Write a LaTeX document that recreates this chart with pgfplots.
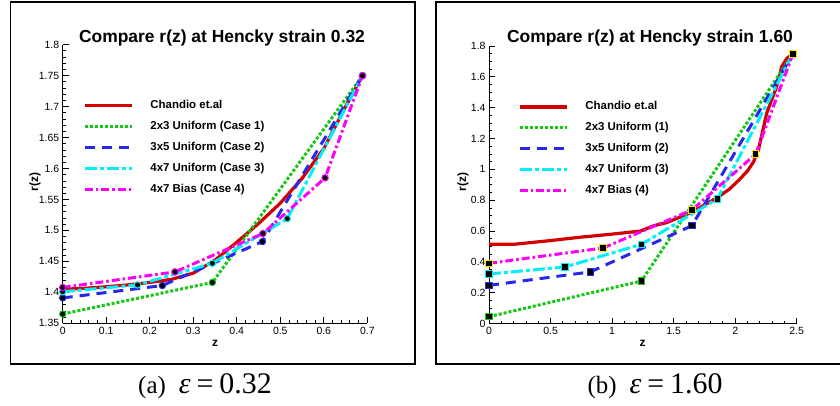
\documentclass[border=0pt]{standalone}
\usepackage{pgfplots}
\pgfplotsset{compat=1.18}
\usepackage{fontspec}
\setmainfont{Liberation Sans}
\newfontfamily\timesfont{Liberation Serif}
\definecolor{cred}{RGB}{210,0,0}
\definecolor{cgreen}{RGB}{20,200,20}
\definecolor{cblue}{RGB}{40,40,235}
\definecolor{ccyan}{RGB}{0,240,250}
\definecolor{cmag}{RGB}{250,0,250}
\definecolor{cyel}{RGB}{240,230,0}
\pgfplotsset{
  mystyle/.style={
    scale only axis, axis x line*=bottom, axis y line*=left,
    tick align=inside, axis line style={line width=1bp,-},
    major tick length=6bp, minor tick length=3bp,
    tick style={line width=0.8bp, black},
    tick label style={font=\fontsize{10.5}{12}\selectfont},
    /pgf/number format/assume math mode=true,
    clip=false,
    legend cell align=left,
    legend style={draw=none, fill=none, inner sep=0pt, row sep=10.5bp,
      /tikz/every odd column/.append style={column sep=17bp},
      nodes={inner sep=0pt, text height=8bp, text depth=2.5bp, font=\fontsize{11.5}{13}\selectfont\bfseries}},
    legend image code/.code={\draw[##1] (0bp,0bp) -- (47bp,0bp);},
  },
  sred/.style={color=cred, line width=3.2bp, solid, no markers},
  sgreen/.style={color=cgreen, line width=3bp, dash pattern=on 3bp off 2bp},
  sblue/.style={color=cblue, line width=3bp, dash pattern=on 10bp off 7bp},
  scyan/.style={color=ccyan, line width=3bp, dash pattern=on 12bp off 3bp on 4bp off 3bp},
  smag/.style={color=cmag, line width=3bp, dash pattern=on 8bp off 3bp on 2.5bp off 3bp},
}
\begin{document}
\begin{tikzpicture}[x=1bp,y=1bp]
\path[use as bounding box] (0,0) rectangle (840,405);
\draw[line width=1.5bp] (10.5,41) rectangle (415,403);
\draw[line width=1.5bp] (842,403) -- (436,403) -- (436,41) -- (842,41);

% ---------- left ----------
\begin{axis}[mystyle, at={(62.7bp,81.7bp)}, anchor=south west,
  width=304.6bp, height=278.6bp,
  xmin=0, xmax=0.7, ymin=1.35, ymax=1.8,
  xtick={0,0.1,...,0.7}, ytick={1.35,1.4,...,1.8},
  minor x tick num=4, minor y tick num=4,
  legend style={at={(rel axis cs:0.0666,0.80)}, anchor=north west},
  mark size=3.2bp]
\addplot[sred] coordinates {(0,1.405) (0.05,1.4065) (0.1,1.409) (0.15,1.412) (0.2,1.416) (0.25,1.421) (0.3,1.431) (0.35,1.452) (0.4,1.481) (0.45,1.511) (0.5,1.544) (0.55,1.584) (0.6,1.632) (0.65,1.70) (0.689,1.75)};
\addlegendentry{Chandio et.al}
\addplot[sgreen, mark=*, mark options={solid, fill=black, draw=cgreen, line width=1bp}] coordinates {(0,1.365) (0.344,1.416) (0.689,1.75)};
\addlegendentry{2x3 Uniform (Case 1)}
\addplot[sblue, mark=*, mark options={solid, fill=black, draw=cblue, line width=1bp}] coordinates {(0,1.391) (0.229,1.411) (0.459,1.482) (0.689,1.75)};
\addlegendentry{3x5 Uniform (Case 2)}
\addplot[scyan, mark=*, mark options={solid, fill=black, draw=ccyan, line width=1bp}] coordinates {(0,1.401) (0.172,1.412) (0.344,1.447) (0.516,1.519) (0.689,1.75)};
\addlegendentry{4x7 Uniform (Case 3)}
\addplot[smag, mark=*, mark options={solid, fill=black, draw=cmag, line width=1bp}] coordinates {(0,1.408) (0.258,1.433) (0.46,1.495) (0.603,1.585) (0.689,1.75)};
\addlegendentry{4x7 Bias (Case 4)}
\end{axis}

% ---------- right ----------
\begin{axis}[mystyle, at={(489bp,81.4bp)}, anchor=south west,
  width=307.7bp, height=277.6bp,
  xmin=0, xmax=2.5, ymin=0, ymax=1.8,
  xtick={0,0.5,...,2.5}, ytick={0,0.2,...,1.8},
  minor x tick num=4, minor y tick num=3,
  legend style={at={(rel axis cs:0.0942,0.80)}, anchor=north west},
  mark size=3.3bp]
\addplot[sred] coordinates {(0,0.514) (0.2,0.514) (0.47,0.536) (0.74,0.56) (1.01,0.581) (1.23,0.60) (1.34,0.635) (1.44,0.654) (1.55,0.69) (1.66,0.726) (1.86,0.82) (1.95,0.87) (2.03,0.93) (2.10,0.99) (2.15,1.05) (2.19,1.13) (2.256,1.364) (2.337,1.536) (2.378,1.666) (2.42,1.72) (2.47,1.75)};
\addlegendentry{Chandio et.al}
\addplot[sgreen, mark=square*, mark options={solid, fill=black, draw=cgreen, line width=1bp}] coordinates {(0,0.045) (1.238,0.276) (2.47,1.75)};
\addlegendentry{2x3 Uniform (1)}
\addplot[sblue, mark=square*, mark options={solid, fill=black, draw=cblue, line width=1bp}] coordinates {(0,0.248) (0.823,0.335) (1.649,0.635) (2.47,1.75)};
\addlegendentry{3x5 Uniform (2)}
\addplot[scyan, mark=square*, mark options={solid, fill=black, draw=ccyan, line width=1bp}] coordinates {(0,0.322) (0.617,0.367) (1.238,0.514) (1.855,0.808) (2.47,1.75)};
\addlegendentry{4x7 Uniform (3)}
\addplot[smag, mark=square*, mark options={solid, fill=black, draw=cyel, line width=1bp}] coordinates {(0,0.391) (0.927,0.490) (1.649,0.737) (2.166,1.098) (2.47,1.75)};
\addlegendentry{4x7 Bias (4)}
\end{axis}

% titles and labels
\node[anchor=base, font=\fontsize{17.5}{20}\selectfont\bfseries] at (222,362.5) {Compare r(z) at Hencky strain 0.32};
\node[anchor=base, font=\fontsize{17.5}{20}\selectfont\bfseries] at (650,362.5) {Compare r(z) at Hencky strain 1.60};
\node[font=\fontsize{12}{14}\selectfont\bfseries] at (215,62) {z};
\node[font=\fontsize{12}{14}\selectfont\bfseries] at (642.7,62) {z};
\node[rotate=90, font=\fontsize{12}{14}\selectfont\bfseries] at (35,223) {r(z)};
\node[rotate=90, font=\fontsize{12}{14}\selectfont\bfseries] at (463,223) {r(z)};
% captions
\node[anchor=base, inner sep=0pt] at (205,12) {\timesfont\fontsize{25}{28}\selectfont (a)\hspace{13bp}{\fontsize{30}{32}\selectfont\itshape ε}\hspace{6bp}{\fontsize{30}{32}\selectfont =\hspace{6bp}0.32}};
\node[anchor=base, inner sep=0pt] at (655,12) {\timesfont\fontsize{25}{28}\selectfont (b)\hspace{13bp}{\fontsize{30}{32}\selectfont\itshape ε}\hspace{6bp}{\fontsize{30}{32}\selectfont =\hspace{6bp}1.60}};
\end{tikzpicture}
\end{document}
